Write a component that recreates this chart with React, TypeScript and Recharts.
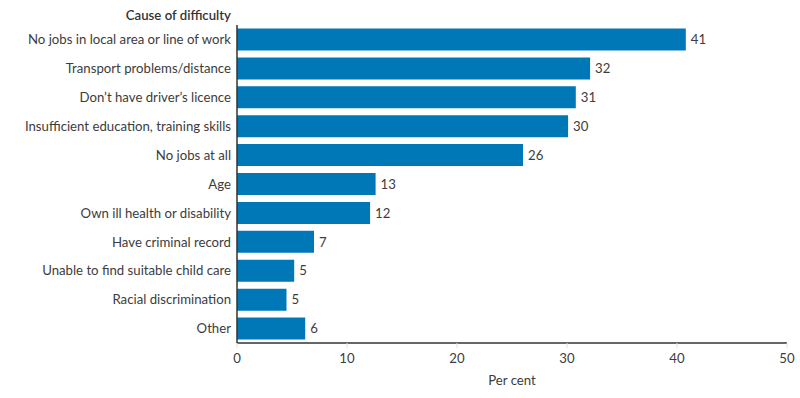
import { BarChart, Bar, XAxis, YAxis, LabelList } from 'recharts';

const causes = [
  'No jobs in local area or line of work',
  'Transport problems/distance',
  "Don\u2019t have driver\u2019s licence",
  'Insufficient education, training skills',
  'No jobs at all',
  'Age',
  'Own ill health or disability',
  'Have criminal record',
  'Unable to find suitable child care',
  'Racial discrimination',
  'Other',
];

const perCent = [40.8, 32.1, 30.8, 30.1, 26.0, 12.6, 12.1, 7.0, 5.2, 4.5, 6.2];

const xTicks = [0, 10, 20, 30, 40, 50];

const data = causes.map((cause, i) => ({ cause, value: perCent[i] }));

const FONT = 'Lato, "Noto Sans", sans-serif';
const TEXT = '#3c3c3c';
const FS = 13.2;

export default function App() {
  return (
    <div style={{ position: 'absolute', left: 0, top: 0, width: 800, height: 398, fontFamily: FONT }}>
      <div
        style={{
          position: 'absolute',
          left: 0,
          width: 231,
          top: 7,
          textAlign: 'right',
          fontSize: FS,
          fontWeight: 600,
          color: '#333',
          fontFamily: FONT,
        }}
      >
        Cause of difficulty
      </div>
      <BarChart
        width={800}
        height={398}
        data={data}
        layout="vertical"
        margin={{ top: 25, right: 13, bottom: 5, left: 0 }}
        barCategoryGap="12%"
      >
        <XAxis
          type="number"
          domain={[0, 50]}
          ticks={xTicks}
          height={50}
          axisLine={{ stroke: '#333', strokeWidth: 1.5 }}
          tickLine={{ stroke: '#e0e0e0' }}
          tickSize={5}
          tickMargin={6}
          tick={{ fill: TEXT, fontSize: FS, fontFamily: FONT }}
          label={{ value: 'Per cent', position: 'insideBottom', offset: 8, fill: TEXT, fontSize: FS, fontFamily: FONT }}
        />
        <YAxis
          type="category"
          dataKey="cause"
          width={237}
          axisLine={{ stroke: '#333', strokeWidth: 1.5 }}
          tickLine={false}
          tickSize={4}
          tickMargin={2}
          interval={0}
          tick={{ fill: TEXT, fontSize: FS, fontFamily: FONT }}
        />
        <Bar dataKey="value" fill="#0078b8" isAnimationActive={false}>
          <LabelList
            dataKey="value"
            position="right"
            offset={5}
            formatter={(v: number) => Math.round(v)}
            style={{ fill: TEXT, fontSize: FS, fontFamily: FONT }}
          />
        </Bar>
      </BarChart>
    </div>
  );
}
